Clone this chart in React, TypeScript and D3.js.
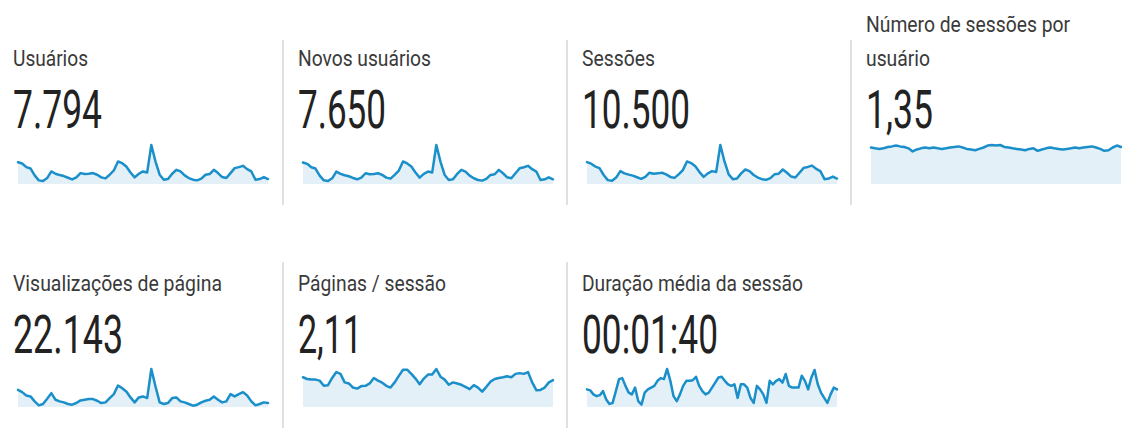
import React from "react";
import * as d3 from "d3";

// ---- Data ----
const titles = [
  "Usuários",
  "Novos usuários",
  "Sessões",
  "Número de sessões por usuário",
  "Visualizações de página",
  "Páginas / sessão",
  "Duração média da sessão",
];
const totals = ["7.794", "7.650", "10.500", "1,35", "22.143", "2,11", "00:01:40"];

const usersDaily = [66,62,51,47,26,11,9,18,38,31,27,24,19,14,20,33,30,31,33,28,20,17,28,41,68,63,53,35,20,31,38,35,118,68,28,13,15,31,43,38,26,18,13,11,16,28,30,43,33,21,18,33,48,51,55,45,38,13,15,21,15];
const newUsersDaily = [64,60,50,46,25,11,9,17,37,30,26,23,18,14,19,32,29,30,32,27,19,16,27,40,67,61,52,34,19,30,37,34,116,66,27,12,14,30,42,37,25,17,12,10,15,27,29,42,32,20,17,32,47,50,54,44,37,12,14,20,14];
const sessionsDaily = [68,63,54,49,28,12,10,20,40,33,29,26,21,16,22,35,32,33,35,30,22,19,30,43,70,65,55,37,22,33,40,37,121,70,30,15,17,33,45,40,28,20,15,13,18,30,32,45,35,23,20,35,50,53,57,47,40,15,17,23,17];
const sessionsPerUserDaily = [1.31,1.28,1.26,1.28,1.33,1.35,1.38,1.35,1.33,1.28,1.17,1.24,1.28,1.31,1.28,1.31,1.28,1.26,1.28,1.31,1.33,1.35,1.31,1.26,1.24,1.21,1.26,1.31,1.38,1.40,1.38,1.40,1.33,1.31,1.28,1.26,1.24,1.21,1.26,1.28,1.19,1.24,1.28,1.31,1.28,1.26,1.24,1.26,1.28,1.31,1.28,1.31,1.33,1.35,1.31,1.26,1.19,1.21,1.31,1.38,1.33];
const pageviewsDaily = [52,45,35,32,17,5,9,25,42,22,17,14,9,7,12,20,22,24,24,19,12,14,27,39,65,57,47,29,14,29,32,27,115,62,14,9,12,27,29,17,14,9,4,7,14,19,22,32,22,14,17,39,32,39,45,35,17,5,9,14,12];
const pagesPerSessionDaily = [2.02,1.90,1.86,1.86,1.79,1.44,1.48,1.97,2.37,2.25,1.67,1.60,1.32,1.25,1.42,1.44,1.60,1.97,1.79,1.65,1.44,1.32,1.67,2.11,2.53,2.53,2.25,1.93,1.55,1.93,2.20,2.20,2.58,2.06,1.86,1.51,1.67,1.60,1.51,1.37,1.21,1.48,1.32,1.04,1.37,1.72,1.90,1.97,2.02,2.09,2.02,2.25,2.30,2.25,2.37,1.67,1.14,1.16,1.32,1.67,1.83];
const avgDurationDaily = [91,86,65,56,61,82,39,16,21,82,144,149,109,74,65,100,30,12,74,91,100,109,135,149,144,196,135,56,30,65,109,135,135,138,156,109,82,65,74,100,126,152,156,135,117,109,117,47,117,117,100,47,21,109,91,65,21,135,117,135,144,126,170,109,100,100,100,161,135,91,152,191,117,74,47,21,65,100,91];

const series = [usersDaily, newUsersDaily, sessionsDaily, sessionsPerUserDaily, pageviewsDaily, pagesPerSessionDaily, avgDurationDaily];

// ---- Layout ----
const W = 1122;
const H = 428;
const colX = [13, 298, 582, 866];
const sepX = [283, 567, 851];
const titleW = [75, 133, 73, 204, 209, 148, 221];
const numW = [89, 88, 108, 67, 110, 64, 136];
const LINE = "#1a8fc9";
const FILL = "#e3f0f8";

function Sparkline({ data, x0, x1, yBottom, yTop }: { data: number[]; x0: number; x1: number; yBottom: number; yTop: number }) {
  const x = d3.scaleLinear().domain([0, data.length - 1]).range([x0, x1]);
  const y = d3.scaleLinear().domain([0, d3.max(data) as number]).range([yBottom, yTop]);
  const area = d3.area<number>().x((_, i) => x(i)).y0(yBottom).y1((d) => y(d));
  const line = d3.line<number>().x((_, i) => x(i)).y((d) => y(d));
  return (
    <g>
      <path d={area(data) || ""} fill={FILL} />
      <path d={line(data) || ""} fill="none" stroke={LINE} strokeWidth={2.5} strokeLinejoin="round" strokeLinecap="round" />
    </g>
  );
}

export default function App() {
  const cells = titles.map((t, i) => {
    const row = i < 4 ? 0 : 1;
    const col = i < 4 ? i : i - 4;
    const tx = colX[col];
    const titleBase = row === 0 ? 66 : 291;
    const numBase = row === 0 ? 128 : 353;
    const sparkBottom = row === 0 ? 184 : 407;
    const sparkTop = row === 0 ? 145 : 369;
    const twoLine = i === 3;
    return (
      <g key={i}>
        {twoLine ? (
          <>
            <text x={tx} y={32} fontSize={22} fill="#3a3a3a" textLength={204} lengthAdjust="spacingAndGlyphs">Número de sessões por</text>
            <text x={tx} y={66} fontSize={22} fill="#3a3a3a" textLength={64} lengthAdjust="spacingAndGlyphs">usuário</text>
          </>
        ) : (
          <text x={tx} y={titleBase} fontSize={22} fill="#3a3a3a" textLength={titleW[i]} lengthAdjust="spacingAndGlyphs">{t}</text>
        )}
        <text x={tx} y={numBase} fontSize={53} fontWeight={400} fill="#222" textLength={numW[i]} lengthAdjust="spacingAndGlyphs">{totals[i]}</text>
        <Sparkline data={series[i]} x0={tx + 5} x1={tx + 255} yBottom={sparkBottom} yTop={sparkTop} />
      </g>
    );
  });
  return (
    <svg width={W} height={H} style={{ position: "absolute", left: 0, top: 0, background: "#fff", fontFamily: "Roboto, 'Noto Sans', sans-serif" }}>
      <rect width={W} height={H} fill="#fff" />
      {sepX.map((sx, i) => (
        <line key={"a" + i} x1={sx} x2={sx} y1={40} y2={205} stroke="#d6d6d6" strokeWidth={1.5} />
      ))}
      {sepX.slice(0, 2).map((sx, i) => (
        <line key={"b" + i} x1={sx} x2={sx} y1={262} y2={428} stroke="#d6d6d6" strokeWidth={1.5} />
      ))}
      {cells}
    </svg>
  );
}
